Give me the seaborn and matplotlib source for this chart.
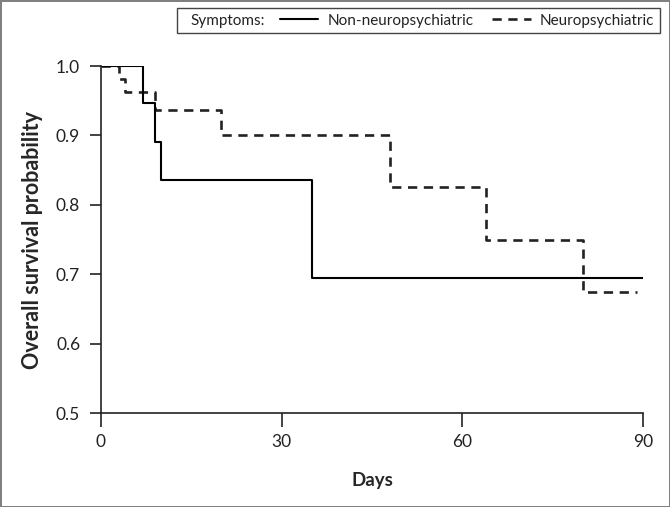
import pandas as pd
import numpy as np
import matplotlib.pyplot as plt
import seaborn as sns
from matplotlib.lines import Line2D
from matplotlib.patches import Rectangle

sns.set_style("ticks")
plt.rcParams['font.family'] = ['Lato', 'DejaVu Sans']

# Kaplan-Meier step points (day, survival)
non_days = [0, 7, 9, 10, 35, 90]
non_surv = [1.0, 0.947, 0.891, 0.836, 0.695, 0.695]
neuro_days = [0, 3, 4, 9, 20, 48, 64, 80, 89]
neuro_surv = [1.0, 0.981, 0.962, 0.936, 0.9, 0.825, 0.75, 0.675, 0.675]

x_ticks = [0, 30, 60, 90]
y_ticks = [0.5, 0.6, 0.7, 0.8, 0.9, 1.0]

df_non = pd.DataFrame({'day': non_days, 'surv': non_surv})
df_neuro = pd.DataFrame({'day': neuro_days, 'surv': neuro_surv})

dash = (0, (3.5, 2.5))

fig = plt.figure(figsize=(6.7, 5.07), dpi=100)
fig.patch.set_edgecolor('#808080')
fig.patch.set_linewidth(2)
ax = fig.add_axes([0.1507, 0.1854, 0.809, 0.6844])

sns.lineplot(data=df_neuro, x='day', y='surv', ax=ax, color='#222222',
             drawstyle='steps-post', linewidth=1.9, linestyle=dash,
             estimator=None)
sns.lineplot(data=df_non, x='day', y='surv', ax=ax, color='black',
             drawstyle='steps-post', linewidth=1.5, estimator=None)

ax.set_xlim(0, 90)
ax.set_ylim(0.5, 1.0)
ax.set_xticks(x_ticks)
ax.set_yticks(y_ticks)
ax.set_yticklabels([f'{v:.1f}' for v in y_ticks])
ax.tick_params(axis='both', labelsize=12.5, colors='#222222', width=1.2)
ax.tick_params(axis='x', length=10, pad=5)
ax.tick_params(axis='y', length=8, pad=7)
sns.despine(ax=ax)
for s in ['left', 'bottom']:
    ax.spines[s].set_linewidth(1.2)
    ax.spines[s].set_color('#222222')

ax.set_xlabel('Days', fontsize=13.5, fontweight='bold', labelpad=16)
ax.set_ylabel('Overall survival probability', fontsize=15.5, fontweight='bold', labelpad=9)

# legend box with the "Symptoms:" caption
fig.patches.append(Rectangle((177 / 670, 1 - 33 / 507), (660 - 177) / 670, 25 / 507,
                             transform=fig.transFigure, fill=False,
                             edgecolor='#444444', linewidth=1.0))
fig.text(190 / 670, 1 - 20.5 / 507, 'Symptoms:', fontsize=11, color='#222222',
         ha='left', va='center')

handles = [Line2D([], [], color='black', linewidth=1.5),
           Line2D([], [], color='#222222', linewidth=1.9, linestyle=dash)]
labels = ['Non-neuropsychiatric', 'Neuropsychiatric']
leg = fig.legend(handles, labels, ncol=2, loc='center left',
                 bbox_to_anchor=(280 / 670, 1 - 20.5 / 507), fontsize=11,
                 frameon=False, handlelength=2.5, handletextpad=0.6,
                 columnspacing=1.25, borderpad=0, borderaxespad=0)
for t in leg.get_texts():
    t.set_color('#222222')

fig.savefig('out.png', dpi=100)
